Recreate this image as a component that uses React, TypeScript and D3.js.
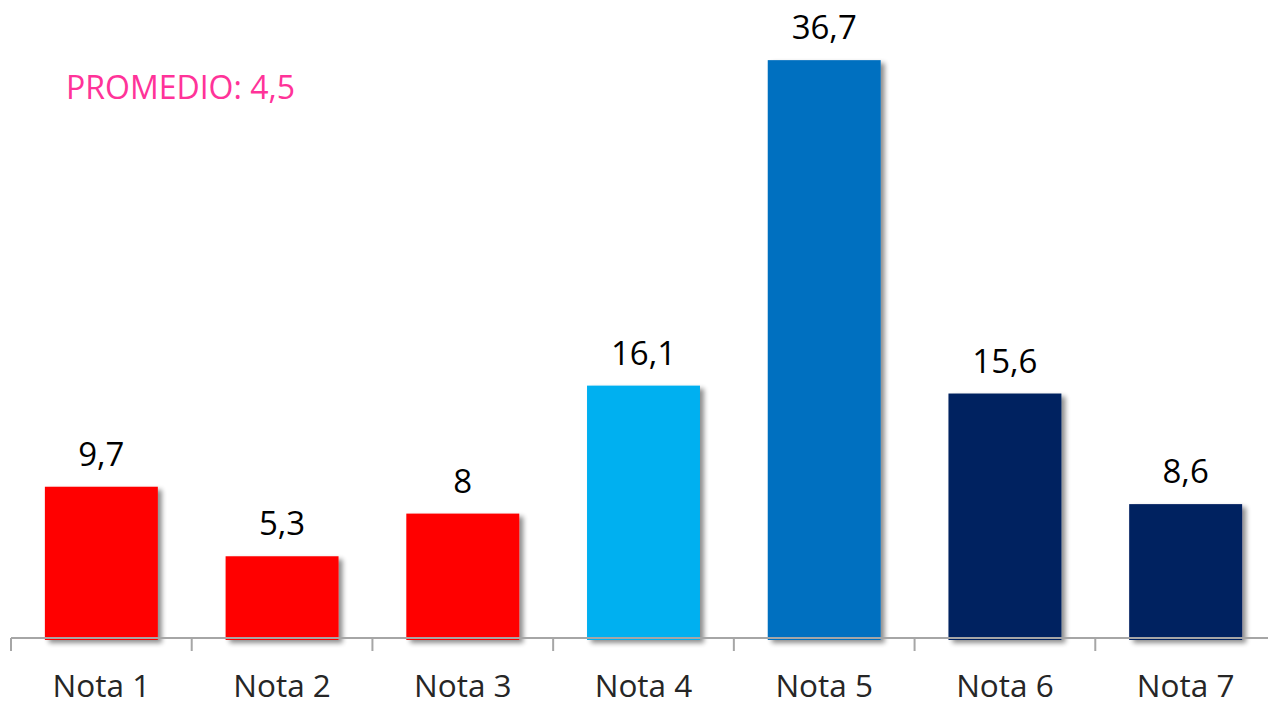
import React from "react";
import * as d3 from "d3";

const categories = ["Nota 1", "Nota 2", "Nota 3", "Nota 4", "Nota 5", "Nota 6", "Nota 7"];
const values = [9.7, 5.3, 8, 16.1, 36.7, 15.6, 8.6];
const labels = ["9,7", "5,3", "8", "16,1", "36,7", "15,6", "8,6"];
const colors = ["#FF0000", "#FF0000", "#FF0000", "#00B0F0", "#0070C0", "#002060", "#002060"];
const promedio = "PROMEDIO: 4,5";

const W = 1268;
const H = 701;
const FONT = "'Open Sans', Lato, sans-serif";

export default function App() {
  const x = d3.scaleBand<string>().domain(categories).range([11, 1276]).paddingInner(0.375).paddingOuter(0.1875);
  const y = d3.scaleLinear().domain([0, 40]).range([640, 8]);
  const axisY = 638;
  const step = x.step();
  const ticks = d3.range(categories.length + 1).map((i) => 11 + i * step);

  return (
    <svg width={W} height={H} style={{ position: "fixed", left: 0, top: 0, background: "#fff" }}>
      <defs>
        <filter id="shadow" x="-10%" y="-10%" width="130%" height="130%">
          <feGaussianBlur in="SourceAlpha" stdDeviation="2.5" />
          <feOffset dx="4" dy="3" result="b" />
          <feComponentTransfer>
            <feFuncA type="linear" slope="0.45" />
          </feComponentTransfer>
          <feMerge>
            <feMergeNode />
            <feMergeNode in="SourceGraphic" />
          </feMerge>
        </filter>
      </defs>
      <rect x={0} y={0} width={W} height={H} fill="#fff" />
      {categories.map((c, i) => (
        <rect
          key={c}
          x={x(c)}
          y={y(values[i])}
          width={x.bandwidth()}
          height={y(0) - y(values[i])}
          fill={colors[i]}
          filter="url(#shadow)"
        />
      ))}
      <line x1={11} x2={1276} y1={axisY} y2={axisY} stroke="#A6A6A6" strokeWidth={2} />
      {ticks.map((t, i) => (
        <line key={i} x1={t} x2={t} y1={axisY} y2={axisY + 13} stroke="#A6A6A6" strokeWidth={2} />
      ))}
      {categories.map((c, i) => (
        <text
          key={c}
          x={(x(c) as number) + x.bandwidth() / 2}
          y={y(values[i]) - 21}
          textAnchor="middle"
          fontFamily={FONT}
          fontSize={33}
          fill="#000"
        >
          {labels[i]}
        </text>
      ))}
      {categories.map((c) => (
        <text
          key={c}
          x={(x(c) as number) + x.bandwidth() / 2}
          y={697}
          textAnchor="middle"
          fontFamily={FONT}
          fontSize={31.5}
          fill="#262626"
        >
          {c}
        </text>
      ))}
      <text x={66} y={99} fontFamily={FONT} fontSize={32} fill="#FF3399">
        {promedio}
      </text>
    </svg>
  );
}
